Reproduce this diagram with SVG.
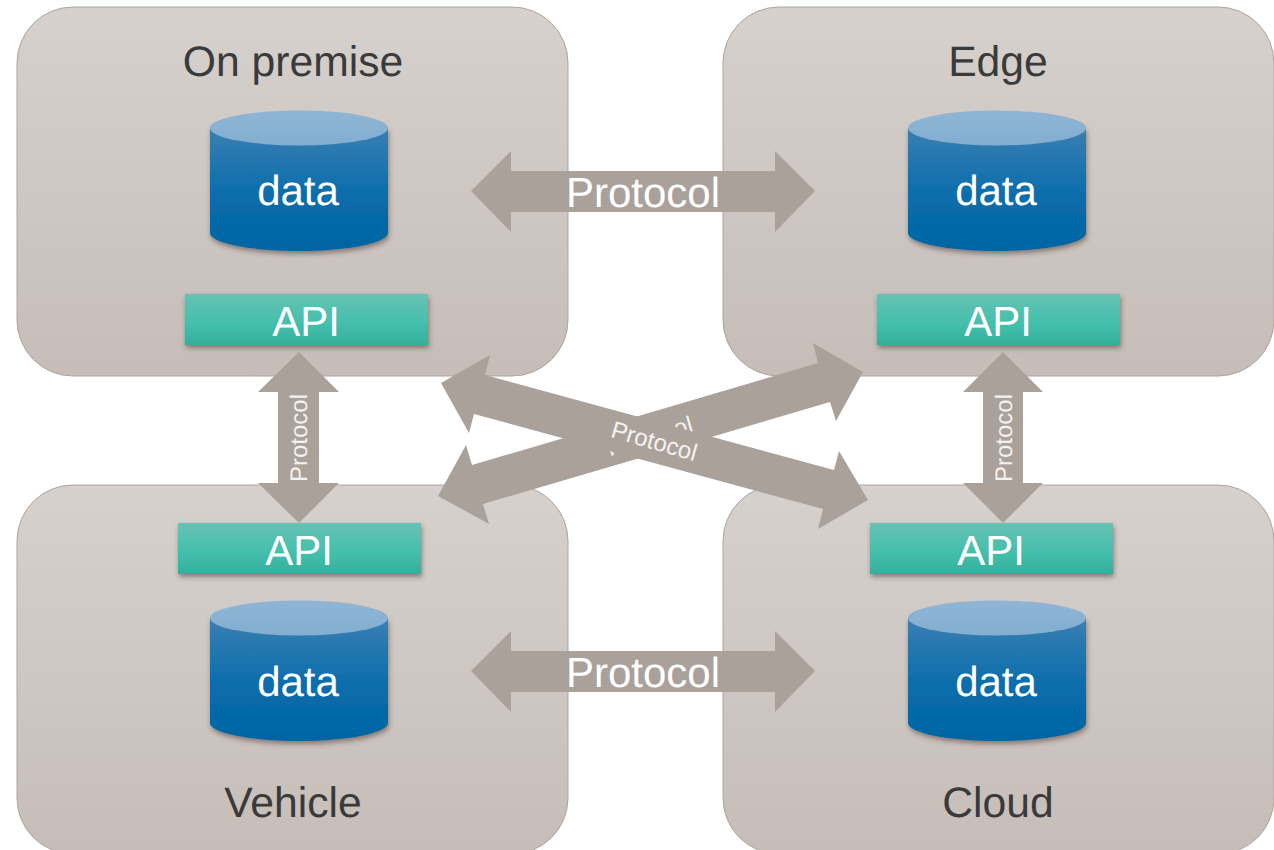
<svg xmlns="http://www.w3.org/2000/svg" xmlns:xlink="http://www.w3.org/1999/xlink" width="1274" height="850" viewBox="0 0 1274 850">
<defs>
<linearGradient id="panel" x1="0" y1="0" x2="0" y2="1"><stop offset="0" stop-color="#d6d1cd"/><stop offset="1" stop-color="#c6bdb8"/></linearGradient>
<linearGradient id="body" x1="0" y1="0" x2="0" y2="1"><stop offset="0" stop-color="#3a7fb2"/><stop offset="0.55" stop-color="#0a6dab"/><stop offset="1" stop-color="#0065a2"/></linearGradient>
<linearGradient id="cap" x1="0" y1="0" x2="0" y2="1"><stop offset="0" stop-color="#8fb5d5"/><stop offset="1" stop-color="#82aed1"/></linearGradient>
<linearGradient id="api" x1="0" y1="0" x2="0" y2="1"><stop offset="0" stop-color="#66c2b3"/><stop offset="0.6" stop-color="#43bfac"/><stop offset="1" stop-color="#35ae9c"/></linearGradient>
<filter id="sh" x="-10%" y="-15%" width="120%" height="135%"><feDropShadow dx="1" dy="3" stdDeviation="2.5" flood-color="#3c2f2a" flood-opacity="0.5"/></filter>
<g id="cyl">
<path d="M0 18V123C0 133 40 141 89 141S178 133 178 123V18Z" fill="url(#body)" filter="url(#sh)"/>
<ellipse cx="89" cy="18" rx="89" ry="17.5" fill="url(#cap)"/>
</g>
</defs>
<style>
.panel{fill:url(#panel);stroke:#ada49e;stroke-width:1}
.api{fill:url(#api);filter:url(#sh)}
.arrow{fill:#aba19b}
text{font-family:"Liberation Sans",Arial,sans-serif;text-rendering:geometricPrecision}
.t{font-size:42.7px;text-anchor:middle;fill:#3a3a3a}
.w{font-size:42px;text-anchor:middle;fill:#fff}
.s{font-size:24px;text-anchor:middle;fill:#f4f2f0}
</style>
<g id="node-on-premise">
<rect class="panel" x="17" y="7" width="551" height="369" rx="56"/>
<text class="t" x="293" y="76">On premise</text>
<use xlink:href="#cyl" x="210" y="110"/>
<text class="w" x="298" y="205">data</text>
<rect class="api" x="185" y="294" width="243" height="51"/>
<text class="w" x="306" y="336">API</text>
</g>
<g id="node-edge">
<rect class="panel" x="723" y="7" width="551" height="369" rx="56"/>
<text class="t" x="998" y="76">Edge</text>
<use xlink:href="#cyl" x="908" y="110"/>
<text class="w" x="996" y="205">data</text>
<rect class="api" x="877" y="294" width="243" height="51"/>
<text class="w" x="998" y="336">API</text>
</g>
<g id="node-vehicle">
<rect class="panel" x="17" y="485" width="551" height="369" rx="56"/>
<text class="t" x="293" y="817">Vehicle</text>
<use xlink:href="#cyl" x="210" y="600"/>
<text class="w" x="298" y="696">data</text>
<rect class="api" x="178" y="523" width="243" height="51"/>
<text class="w" x="299" y="565">API</text>
</g>
<g id="node-cloud">
<rect class="panel" x="723" y="485" width="551" height="369" rx="56"/>
<text class="t" x="998" y="817">Cloud</text>
<use xlink:href="#cyl" x="908" y="600"/>
<text class="w" x="996" y="696">data</text>
<rect class="api" x="870" y="523" width="243" height="51"/>
<text class="w" x="991" y="565">API</text>
</g>
<g id="connectors">
<polygon class="arrow" points="471,191 511,151 511,171 775,171 775,151 815,191 775,232 775,212 511,212 511,232"/>
<text class="w" x="643" y="207">Protocol</text>
<polygon class="arrow" points="471,671 511,631 511,651 775,651 775,631 815,671 775,712 775,692 511,692 511,712"/>
<text class="w" x="643" y="687">Protocol</text>
<polygon class="arrow" points="299,352 339,392 319,392 319,483 339,483 299,523 258,483 278,483 278,392 258,392"/>
<text class="s" transform="translate(307,438) rotate(-90)" x="0" y="0">Protocol</text>
<polygon class="arrow" points="1003,352 1043,392 1023,392 1023,483 1043,483 1003,523 963,483 983,483 983,392 963,392"/>
<text class="s" transform="translate(1012,438) rotate(-90)" x="0" y="0">Protocol</text>
<polygon class="arrow" points="438,496 466,445 472,465 818,363 813,343 863,372 836,421 830,402 483,504 489,524"/>
<text class="s" transform="translate(652,444) rotate(-16)" x="0" y="0">Protocol</text>
<polygon class="arrow" points="441,383 490,355 485,375 834,470 839,451 868,500 818,529 823,509 474,414 469,433"/>
<text class="s" transform="translate(652,449) rotate(16)" x="0" y="0">Protocol</text>
</g>
</svg>
